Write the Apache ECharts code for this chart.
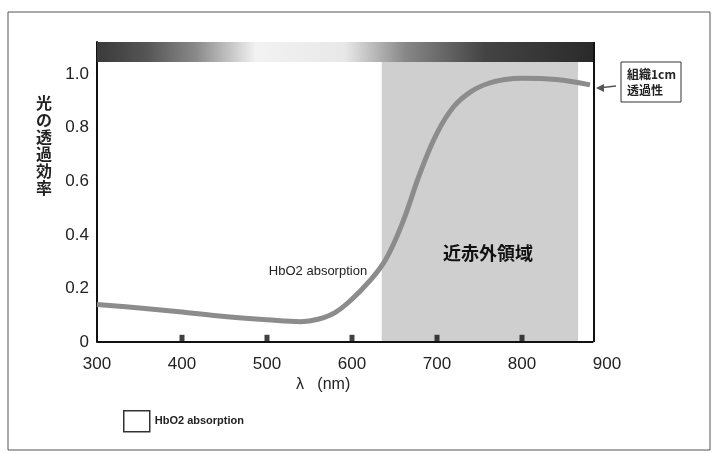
<!DOCTYPE html>
<html>
<head>
<meta charset="utf-8">
<script src="https://cdn.jsdelivr.net/npm/echarts@6/dist/echarts.min.js"></script>
<style>
html, body { margin: 0; padding: 0; background: #fff; }
#chart { width: 721px; height: 454px; }
</style>
</head>
<body>
<div id="chart"></div>
<script>
// 波長(nm)と光の透過効率
var wavelength = [300, 350, 400, 450, 500, 540, 560, 580, 600, 620, 640, 660, 680, 700, 720, 740, 760, 780, 800, 840, 880]
var transmit = [0.14, 0.127, 0.112, 0.095, 0.083, 0.076, 0.085, 0.11, 0.16, 0.225, 0.31, 0.45, 0.63, 0.78, 0.88, 0.935, 0.965, 0.98, 0.985, 0.98, 0.96]
var xTicks = [300, 400, 500, 600, 700, 800, 900]
var yTicks = [0, 0.2, 0.4, 0.6, 0.8, 1.0]
var nirRange = [635, 866]
var frameEnd = 884
var yTop = 1.12

var chart = echarts.init(document.getElementById('chart'))
var font = 'Liberation Sans, Arial, sans-serif'
var jp = 'Noto Sans CJK JP, sans-serif'

chart.setOption({
    animation: false,
    grid: { left: 97, right: 114, top: 42, bottom: 112 },
    legend: {
        left: 118, top: 405,
        itemWidth: 26, itemHeight: 21,
        icon: 'rect',
        textStyle: { fontFamily: font, fontSize: 11, fontWeight: 'bold', color: '#222' },
        data: [{ name: 'HbO2 absorption', itemStyle: { color: '#fff', borderColor: '#333', borderWidth: 1.5 } }]
    },
    xAxis: {
        type: 'value', min: 300, max: 900, interval: 100,
        axisLine: { show: false },
        axisTick: { show: false },
        splitLine: { show: false },
        axisLabel: { fontFamily: font, fontSize: 17, color: '#222', margin: 14 }
    },
    yAxis: {
        type: 'value', min: 0, max: yTop, interval: 0.2,
        axisLine: { show: true, lineStyle: { color: '#111', width: 2 } },
        axisTick: { show: false },
        splitLine: { show: false },
        axisLabel: {
            showMaxLabel: false,
            fontFamily: font, fontSize: 17, color: '#222', margin: 8,
            formatter: function (v) { return v === 0 ? '0' : v.toFixed(1) }
        }
    },
    series: [{
        name: 'HbO2 absorption',
        type: 'line',
        data: wavelength.map(function (w, i) { return [w, transmit[i]] }),
        smooth: 0.4,
        symbol: 'none',
        lineStyle: { color: '#8c8c8c', width: 5 },
        z: 5,
        markArea: {
            silent: true,
            data: [
                [{ coord: [nirRange[0], 0], itemStyle: { color: '#cfcfcf' } }, { coord: [nirRange[1], 1.045] }],
                [{
                    coord: [300, 1.045],
                    itemStyle: {
                        color: {
                            type: 'linear', x: 0, y: 0, x2: 1, y2: 0,
                            colorStops: [
                                { offset: 0, color: '#3a3a3a' },
                                { offset: 0.1, color: '#555' },
                                { offset: 0.2, color: '#8a8a8a' },
                                { offset: 0.32, color: '#f2f2f2' },
                                { offset: 0.5, color: '#e8e8e8' },
                                { offset: 0.62, color: '#888' },
                                { offset: 0.78, color: '#444' },
                                { offset: 1, color: '#2a2a2a' }
                            ]
                        }
                    }
                }, { coord: [frameEnd, yTop] }]
            ]
        },
        markLine: {
            silent: true,
            symbol: 'none',
            label: { show: false },
            lineStyle: { color: '#111', width: 2, type: 'solid' },
            data: [
                [{ coord: [300, 0] }, { coord: [frameEnd, 0] }],
                [{ coord: [frameEnd, 0] }, { coord: [frameEnd, yTop] }]
            ]
        },
        markPoint: {
            silent: true,
            symbol: 'rect',
            symbolSize: 0,
            data: [
                { coord: [560, 0.265], label: { show: true, formatter: 'HbO2 absorption', fontFamily: font, fontSize: 13, color: '#222' } },
                { coord: [760, 0.33], label: { show: true, formatter: '近赤外領域', fontFamily: jp, fontSize: 18, fontWeight: 'bold', color: '#111' } }
            ]
        }
    }, {
        // 目盛りの黒い小さな印
        type: 'scatter',
        data: [[400, 0.012], [500, 0.012], [600, 0.012], [700, 0.012], [800, 0.012]],
        symbol: 'rect',
        symbolSize: [5, 8],
        itemStyle: { color: '#111' },
        silent: true,
        z: 6
    }],
    graphic: [
        { type: 'rect', shape: { x: 8, y: 12, width: 702, height: 438 }, style: { fill: null, stroke: '#555', lineWidth: 1 } },
        { type: 'text', left: 36, top: 94, style: { text: '光\nの\n透\n過\n効\n率', font: 'bold 16px ' + jp, fill: '#222', lineHeight: 17 } },
        { type: 'text', left: 296, top: 377, style: { text: 'λ   (nm)', font: '16px ' + font, fill: '#222' } },
        { type: 'rect', shape: { x: 621, y: 62, width: 60, height: 40 }, style: { fill: '#fff', stroke: '#333', lineWidth: 1 } },
        { type: 'text', left: 627, top: 66, style: { text: '組織1cm\n透過性', font: 'bold 12px ' + jp, fill: '#222', lineHeight: 16 } },
        { type: 'line', shape: { x1: 598, y1: 88, x2: 616, y2: 86 }, style: { stroke: '#555', lineWidth: 1.5 } },
        { type: 'polygon', shape: { points: [[596, 88], [604, 84], [604, 92]] }, style: { fill: '#555' } }
    ]
})
</script>
</body>
</html>
